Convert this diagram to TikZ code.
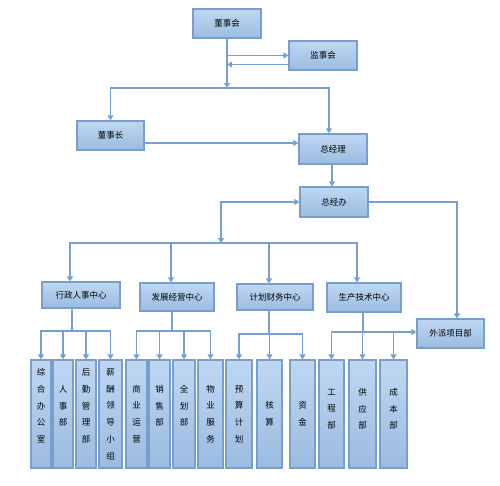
\documentclass[tikz,border=0pt]{standalone}
\usepackage{fontspec}
\newfontfamily\cjk{Noto Sans CJK SC}
\usetikzlibrary{arrows.meta}

\definecolor{boxtop}{HTML}{BFD7F2}
\definecolor{boxbot}{HTML}{9BBBE0}
\definecolor{boxline}{HTML}{779ECC}
\definecolor{linkcol}{HTML}{76A0CF}

\tikzset{
  box/.style={draw=boxline, line width=1.2pt, top color=boxtop, bottom color=boxbot,
    minimum width=68pt, minimum height=29pt, inner sep=0pt,
    font=\cjk\fontsize{8.5}{10}\selectfont},
  vbox/.style={box, minimum height=108pt, align=center,
    font=\cjk\fontsize{8.5}{16.7}\selectfont},
  link/.style={draw=linkcol, line width=1.2pt},
  arr/.style={link, -{Triangle[length=5pt,width=6pt]}},
}

\begin{document}
\begin{tikzpicture}[x=1pt,y=-1pt]
\useasboundingbox (0,0) rectangle (500,485);

% Top level
\node[box] (dsh) at (227,23.5) {董事会};
\node[box] (jsh) at (323,55.5) {监事会};
\node[box, minimum width=67pt] (dsz) at (110.5,135.5) {董事长};
\node[box, minimum height=30pt] (zjl) at (333,149) {总经理};
\node[box, minimum height=30pt] (zjb) at (334,202) {总经办};

% Centres
\node[box, minimum width=78pt, minimum height=26pt] (xz) at (81,295) {行政人事中心};
\node[box, minimum width=74pt, minimum height=28pt] (fz) at (177,297) {发展经营中心};
\node[box, minimum width=76pt, minimum height=26pt] (jh) at (275,297) {计划财务中心};
\node[box, minimum width=74pt] (sc) at (364,297.5) {生产技术中心};
\node[box, minimum width=67pt] (wp) at (450.5,333.5) {外派项目部};

% Departments
\node[vbox, minimum width=20pt] (zhb) at (41,414) {综\\合\\办\\公\\室\\\mbox{}};
\node[vbox, minimum width=20pt] (rsb) at (63,414) {人\\事\\部\\\mbox{}};
\node[vbox, minimum width=20pt] (hq) at (86,414) {后\\勤\\管\\理\\部\\\mbox{}};
\node[vbox, minimum width=23pt] (xc) at (110.5,414) {薪\\酬\\领\\导\\小\\组};
\node[vbox, minimum width=21pt] (sy) at (136.5,414) {商\\业\\运\\营};
\node[vbox, minimum width=21pt] (xs) at (159.5,414) {销\\售\\部\\\mbox{}};
\node[vbox, minimum width=22pt] (qh) at (184,414) {全\\划\\部\\\mbox{}};
\node[vbox, minimum width=25pt] (wy) at (210.5,414) {物\\业\\服\\务};
\node[vbox, minimum width=26pt] (ys) at (239,414) {预\\算\\计\\划};
\node[vbox, minimum width=25pt] (hs) at (269.5,414) {核\\算};
\node[vbox, minimum width=25pt] (zj) at (302.5,414) {资\\金};
\node[vbox, minimum width=25pt] (gc) at (331.5,414) {工\\程\\部\\[-6pt]\mbox{}};
\node[vbox, minimum width=27pt] (gy) at (362.5,414) {供\\应\\部\\[-6pt]\mbox{}};
\node[vbox, minimum width=27pt] (cb) at (393.5,414) {成\\本\\部\\[-6pt]\mbox{}};

% Junctions
\coordinate (bus1) at (227,88);
\coordinate (bus2) at (221,243);
\coordinate (b1) at (72,331);
\coordinate (b2) at (172,331);
\coordinate (b3) at (269,334);
\coordinate (b4) at (363,332);

% Board links
\draw[arr] (dsh) -- (bus1);
\draw[arr] (jsh.west -| dsh.south) -- (jsh.west);
\draw[arr] ([yshift=-9pt]jsh.west) -- ([yshift=-9pt]jsh.west -| dsh.south);
\draw[arr] (bus1) -| (dsz.north);
\draw[arr] (bus1) -| ([xshift=-4pt]zjl.north);
\draw[arr] ([yshift=-7.5pt]dsz.east) -- ([yshift=-7.5pt]dsz.east -| zjl.west);
\draw[arr] ([xshift=-1pt]zjl.south) -- ([xshift=-2pt]zjb.north);

% Management office links
\draw[arr, {Triangle[length=5pt,width=6pt]}-{Triangle[length=5pt,width=6pt]}] (bus2) |- (zjb.west);
\draw[arr] (zjb.east) -| ([xshift=6.5pt]wp.north);
\draw[arr] (bus2) -| ([xshift=-11pt]xz.north);
\draw[arr] (bus2) -| ([xshift=-6pt]fz.north);
\draw[arr] (bus2) -| ([xshift=-6pt]jh.north);
\draw[arr] (bus2) -| ([xshift=-7pt]sc.north);

% Department links
\draw[link] (xz.south -| b1) -- (b1);
\foreach \n in {zhb,rsb,hq,xc} \draw[arr] (b1) -| (\n.north);
\draw[link] (fz.south -| b2) -- (b2);
\foreach \n in {sy,xs,qh,wy} \draw[arr] (b2) -| (\n.north);
\draw[link] (jh.south -| b3) -- (b3);
\foreach \n in {ys,hs,zj} \draw[arr] (b3) -| (\n.north);
\draw[link] (sc.south -| b4) -- (b4);
\foreach \n in {gc,gy,cb} \draw[arr] (b4) -| (\n.north);
\draw[arr] (b4) -- (b4 -| wp.west);
\end{tikzpicture}
\end{document}
